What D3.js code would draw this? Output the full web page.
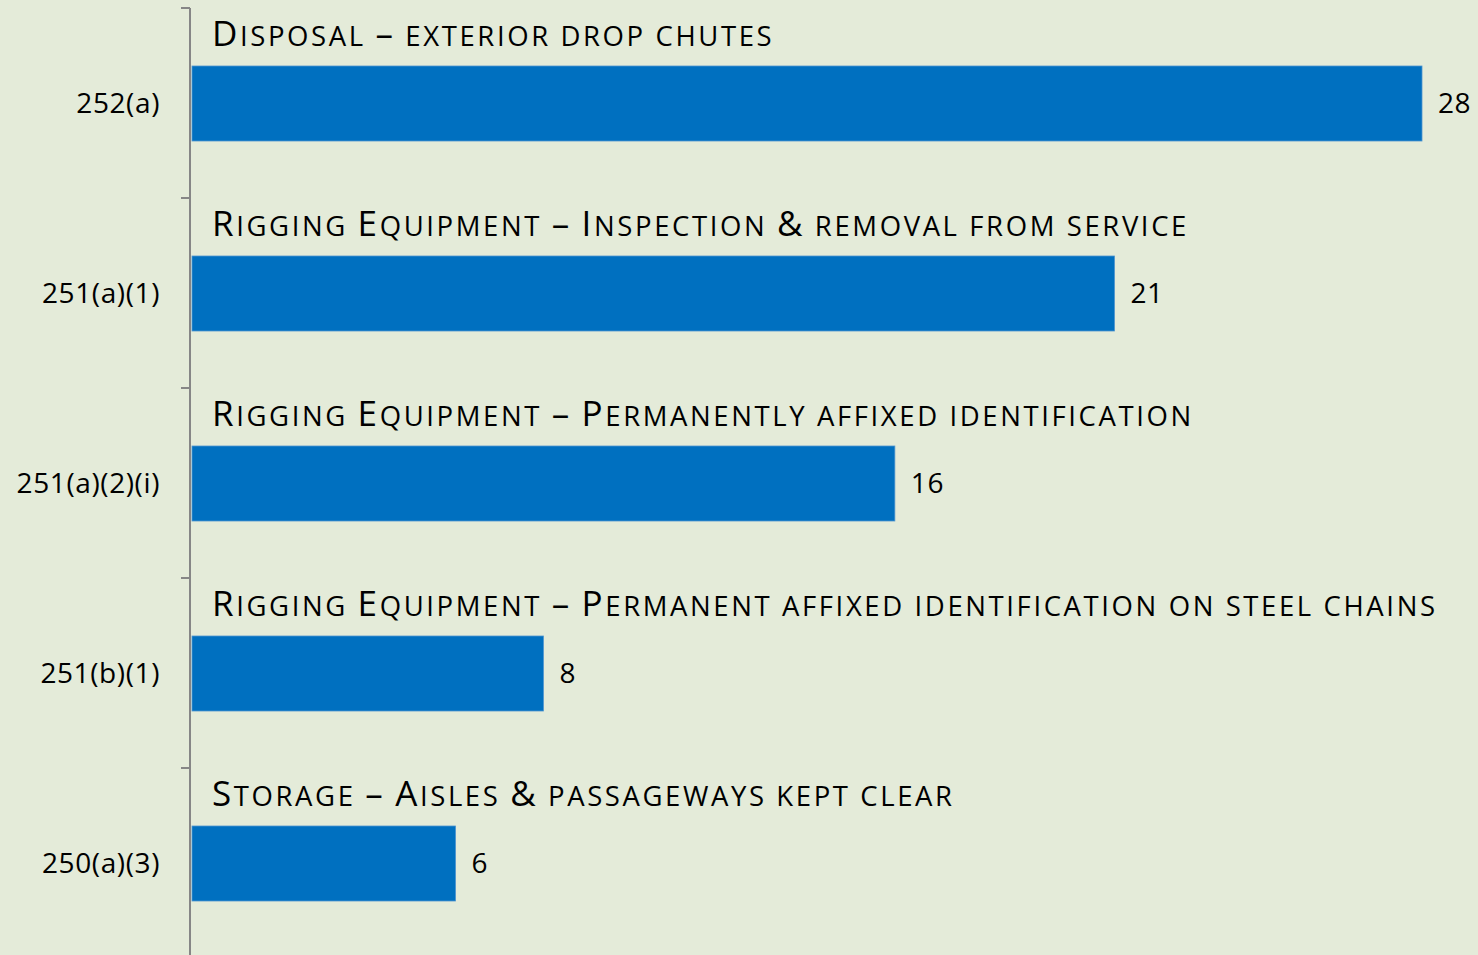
<!DOCTYPE html>
<html>
<head>
<meta charset="utf-8">
<script src="https://cdn.jsdelivr.net/npm/d3@7"></script>
<style>
  html, body { margin: 0; padding: 0; background: #e4ebd9; }
  svg { display: block; }
  text { font-family: "Open Sans", "Noto Sans", sans-serif; fill: #000; }
</style>
</head>
<body>
<svg></svg>
<script>
// Chart data, top to bottom
const codes = ["252(a)", "251(a)(1)", "251(a)(2)(i)", "251(b)(1)", "250(a)(3)"];
const counts = [28, 21, 16, 8, 6];
const titles = [
  "Disposal – exterior drop chutes",
  "Rigging Equipment – Inspection & removal from service",
  "Rigging Equipment – Permanently affixed identification",
  "Rigging Equipment – Permanent affixed identification on steel chains",
  "Storage – Aisles & passageways kept clear"
];

const width = 1478, height = 955;
const rows = codes.map((c, i) => ({ code: c, value: counts[i], title: titles[i] }));

const svg = d3.select("svg")
    .attr("width", width)
    .attr("height", height);

svg.append("rect")
  .attr("width", width)
  .attr("height", height)
  .attr("fill", "#e4ebd9");

// Scales
const x = d3.scaleLinear()
  .domain([0, 28])
  .range([192, 1422]);

const y = d3.scaleBand()
  .domain(codes)
  .range([8, 958]);

const barOffset = 58, barHeight = 75;

// Category labels (axis without the domain line)
const yAxis = svg.append("g")
  .attr("transform", "translate(190,0)")
  .call(d3.axisLeft(y).tickSize(0).tickPadding(30));
yAxis.select(".domain").remove();
yAxis.selectAll("text")
  .attr("dy", "0.35em")
  .style("font-family", "'Open Sans', sans-serif")
  .style("font-size", "28px")
  .style("letter-spacing", "0.6px")
  .attr("y", barOffset + barHeight / 2 - y.bandwidth() / 2);

// Axis line with ticks at band boundaries
svg.append("line")
  .attr("x1", 190).attr("x2", 190)
  .attr("y1", y.range()[0]).attr("y2", height)
  .attr("stroke", "#868686")
  .attr("stroke-width", 2);

svg.selectAll(".bound")
  .data(codes)
  .join("line")
  .attr("class", "bound")
  .attr("x1", 181).attr("x2", 190)
  .attr("y1", d => y(d)).attr("y2", d => y(d))
  .attr("stroke", "#868686")
  .attr("stroke-width", 2);

// Bars
svg.selectAll(".bar")
  .data(rows)
  .join("rect")
  .attr("class", "bar")
  .attr("x", x(0))
  .attr("y", d => y(d.code) + barOffset)
  .attr("width", d => x(d.value) - x(0))
  .attr("height", barHeight)
  .attr("fill", "#0070c0")
  .attr("stroke", "#4f94d0")
  .attr("stroke-width", 0.8);

// Value labels
svg.selectAll(".val")
  .data(rows)
  .join("text")
  .attr("class", "val")
  .attr("x", d => x(d.value) + 16)
  .attr("y", d => y(d.code) + barOffset + barHeight / 2)
  .attr("dy", "0.35em")
  .style("font-size", "28px")
  .style("letter-spacing", "0.6px")
  .text(d => d.value);

// Titles in small caps, built from tspans
function smallCaps(str) {
  const parts = [];
  for (const ch of str) {
    const big = /[A-Z&–]/.test(ch);
    const last = parts[parts.length - 1];
    if (last && last.big === big) last.t += ch.toUpperCase();
    else parts.push({ big, t: ch.toUpperCase() });
  }
  return parts;
}

const titleText = svg.selectAll(".title")
  .data(rows)
  .join("text")
  .attr("class", "title")
  .attr("x", 212)
  .attr("y", d => y(d.code) + 38)
  .style("letter-spacing", "2.6px");

titleText.selectAll("tspan")
  .data(d => smallCaps(d.title))
  .join("tspan")
  .style("font-size", d => d.big ? "35px" : "27.5px")
  .text(d => d.t);
</script>
</body>
</html>
